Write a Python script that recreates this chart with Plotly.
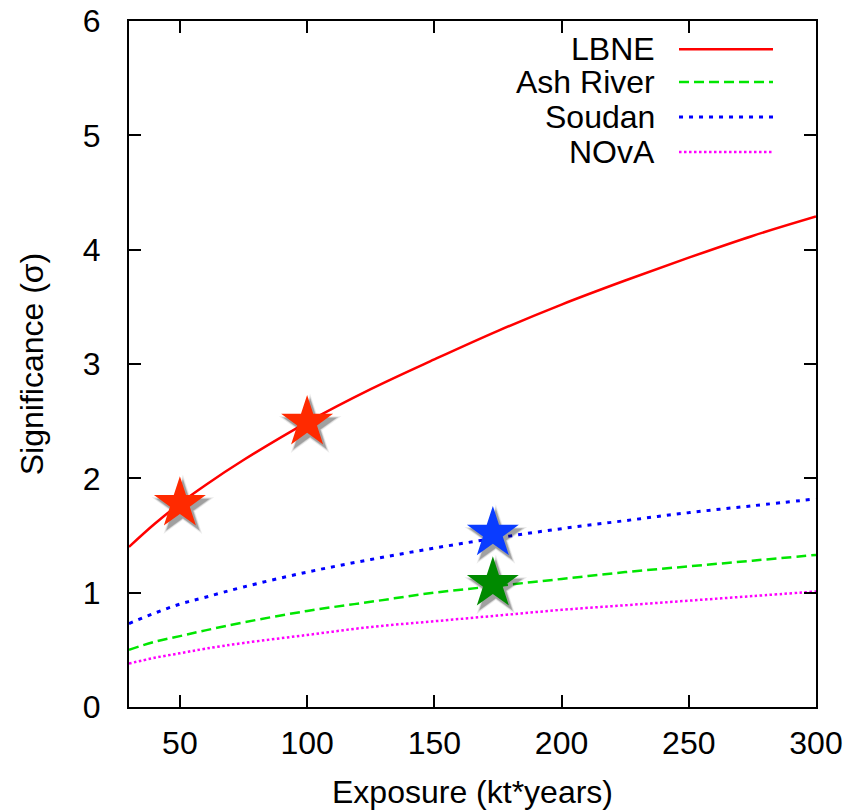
import plotly.graph_objects as go

# ---- data ----
exposure = [30, 40, 50, 60, 75, 100, 125, 150, 175, 200, 225, 250, 275, 300]
lbne     = [1.40, 1.60, 1.78, 1.94, 2.16, 2.49, 2.78, 3.04, 3.29, 3.52, 3.73, 3.93, 4.12, 4.29]
ash      = [0.50, 0.57, 0.62, 0.67, 0.74, 0.84, 0.92, 1.00, 1.06, 1.12, 1.18, 1.23, 1.28, 1.33]
soudan   = [0.73, 0.82, 0.90, 0.96, 1.05, 1.18, 1.29, 1.39, 1.48, 1.56, 1.63, 1.70, 1.76, 1.82]
nova     = [0.38, 0.43, 0.47, 0.51, 0.56, 0.63, 0.70, 0.75, 0.80, 0.85, 0.89, 0.93, 0.97, 1.01]

star_lbne_x = [50, 100]
star_lbne_y = [1.78, 2.49]
star_soudan_x = [173]
star_soudan_y = [1.52]
star_ash_x = [173]
star_ash_y = [1.08]

series_names = ["LBNE", "Ash River", "Soudan", "NOvA"]
x_ticks = [50, 100, 150, 200, 250, 300]
y_ticks = [0, 1, 2, 3, 4, 5, 6]

XR = [30, 300]
YR = [0, 6]
W, H = 850, 811
ML, MR, MT, MB = 129, 34, 21, 104
pw, ph = W - ML - MR, H - MT - MB
FONT = "Liberation Sans, Arial, Helvetica, sans-serif"
FS = 32

styles = [
    dict(color="#ff0000", width=2.5, dash="solid"),
    dict(color="#00e600", width=2.5, dash="10px,5px"),
    dict(color="#0000ff", width=3, dash="4px,6px"),
    dict(color="#ff00ff", width=2.5, dash="2.5px,2.5px"),
]

fig = go.Figure()
for name, ys, st in zip(series_names, [lbne, ash, soudan, nova], styles):
    fig.add_trace(go.Scatter(x=exposure, y=ys, mode="lines", name=name,
                             line=dict(color=st["color"], width=st["width"],
                                       dash=st["dash"], shape="spline"),
                             showlegend=False))

# star shadows: offset by a few pixels converted through the axis scale
dx = 3 * (XR[1] - XR[0]) / pw
dy = -4 * (YR[1] - YR[0]) / ph
all_sx = star_lbne_x + star_soudan_x + star_ash_x
all_sy = star_lbne_y + star_soudan_y + star_ash_y
for sz, op in [(47, 0.08), (43, 0.14), (40, 0.2)]:
    fig.add_trace(go.Scatter(x=[v + dx for v in all_sx], y=[v + dy for v in all_sy],
                             mode="markers", showlegend=False, hoverinfo="skip",
                             marker=dict(symbol="star", size=sz, color="#000000",
                                         opacity=op, line=dict(width=0))))

for sx, sy, col in [(star_lbne_x, star_lbne_y, "#ff2a00"),
                    (star_soudan_x, star_soudan_y, "#0a3cff"),
                    (star_ash_x, star_ash_y, "#008a00")]:
    fig.add_trace(go.Scatter(x=sx, y=sy, mode="markers", showlegend=False,
                             marker=dict(symbol="star", size=39, color=col,
                                         line=dict(width=0))))

# gnuplot-style key: right-aligned text, line sample to the right
key_y = [0.959, 0.911, 0.860, 0.809]
for name, yk, st in zip(series_names, key_y, styles):
    fig.add_annotation(x=0.7686, y=yk, xref="paper", yref="paper", text=name,
                       showarrow=False, xanchor="right", yanchor="middle",
                       font=dict(family=FONT, size=FS, color="black"))
    fig.add_shape(type="line", xref="paper", yref="paper",
                  x0=0.8006, x1=0.9374, y0=yk, y1=yk,
                  line=dict(color=st["color"], width=st["width"], dash=st["dash"]))

axis_common = dict(showline=True, linecolor="black", linewidth=2, mirror="allticks",
                   ticks="inside", ticklen=12, tickwidth=1.5, tickcolor="black",
                   showgrid=False, zeroline=False, automargin=False,
                   tickfont=dict(family=FONT, size=FS, color="black"))

fig.update_layout(
    width=W, height=H,
    margin=dict(l=ML, r=MR, t=MT, b=MB),
    paper_bgcolor="white", plot_bgcolor="white",
    xaxis=dict(range=XR, tickvals=x_ticks, ticklabelstandoff=7,
               title=dict(text="Exposure (kt*years)", standoff=20,
                          font=dict(family=FONT, size=FS, color="black")),
               **axis_common),
    yaxis=dict(range=YR, tickvals=y_ticks, ticklabelstandoff=20,
               title=dict(text="Significance (σ)", standoff=30,
                          font=dict(family=FONT, size=FS, color="black")),
               **axis_common),
)

fig.write_html("out.html")
